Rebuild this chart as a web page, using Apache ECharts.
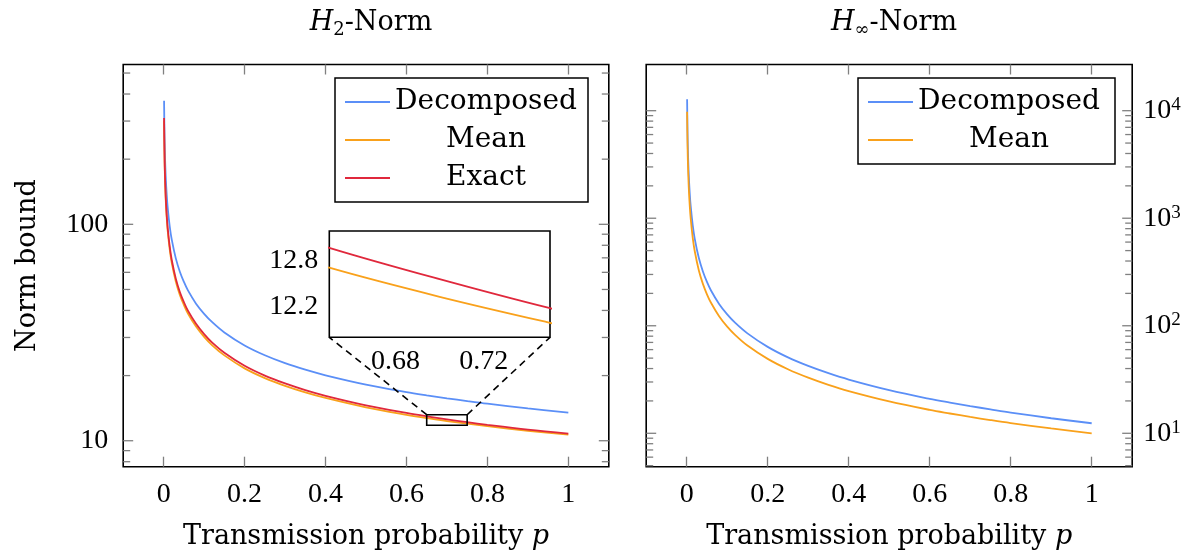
<!DOCTYPE html>
<html>
<head>
<meta charset="UTF-8" />
<title>Norm bounds</title>
<script src="https://cdn.jsdelivr.net/npm/echarts@6/dist/echarts.min.js"></script>
<style>
  body { margin: 0; padding: 0; background: #fff; }
  #main { width: 1196px; height: 560px; }
</style>
</head>
<body>
<div id="main"></div>
<script type="text/javascript">
// transmission probability p (shared by all curves)
var pValues = [0.001, 0.002, 0.003, 0.005, 0.0075, 0.01, 0.015, 0.02, 0.03, 0.04, 0.05, 0.06, 0.08, 0.1, 0.12, 0.15, 0.2, 0.25, 0.3, 0.35, 0.4, 0.5, 0.6, 0.65, 0.7, 0.75, 0.8, 0.9, 1.0];

// H2 norm bounds
var h2Decomposed = [372, 264, 215, 167.3, 137.2, 119.2, 97.7, 84.9, 69.6, 60.4, 54.2, 49.5, 43.0, 38.6, 35.3, 31.65, 27.56, 24.83, 22.83, 21.3, 20.07, 18.18, 16.79, 16.22, 15.71, 15.25, 14.83, 14.11, 13.5];
var h2Mean = [301, 209.5, 169.8, 131, 107.3, 93.2, 76.4, 66.3, 54.4, 47.2, 42.4, 38.7, 33.7, 30.2, 27.6, 24.8, 21.6, 19.48, 17.94, 16.73, 15.76, 14.26, 13.16, 12.71, 12.33, 11.99, 11.67, 11.12, 10.67];
var h2Exact = [310, 216, 175, 135, 110.6, 96.1, 78.8, 68.4, 56.1, 48.7, 43.7, 39.9, 34.7, 31.1, 28.4, 25.5, 22.2, 20.0, 18.4, 17.14, 16.13, 14.58, 13.44, 12.97, 12.56, 12.18, 11.84, 11.25, 10.78];

// H-infinity norm bounds
var hinfDecomposed = [12800, 6400, 4266, 2560, 1706, 1280, 853, 640, 426, 320, 256, 213, 159.6, 127.6, 106.3, 85, 63.6, 50.8, 42.3, 36.2, 31.6, 25.2, 20.9, 19.3, 17.9, 16.7, 15.6, 13.8, 12.4];
var hinfMean = [9800, 4900, 3267, 1960, 1307, 980, 653.5, 490, 326.9, 245.2, 196.2, 163.5, 122.7, 98.2, 81.9, 65.5, 49.2, 39.4, 32.9, 28.2, 24.7, 19.8, 16.5, 15.28, 14.2, 13.27, 12.45, 11.09, 10.0];

// ticks
var xTicks = [0, 0.2, 0.4, 0.6, 0.8, 1];
var h2MajorTicks = [10, 100];
var h2MinorTicks = [8, 9, 20, 30, 40, 50, 60, 70, 80, 90, 200, 300, 400, 500];
var hinfMajorTicks = [10, 100, 1000, 10000];
var hinfMinorTicks = [5, 6, 7, 8, 9, 20, 30, 40, 50, 60, 70, 80, 90, 200, 300, 400, 500, 600, 700, 800, 900, 2000, 3000, 4000, 5000, 6000, 7000, 8000, 9000];
var insetXTicks = [0.68, 0.72];
var insetYTicks = [12.2, 12.8];

// axis ranges
var xRange = [-0.1, 1.1];
var h2Range = [7.586, 547.6];
var hinfRange = [4.89, 26890];
var insetX = [0.65, 0.75];
var insetY = [11.8, 13.19];

var BLUE = '#5b8ff7';
var ORANGE = '#f9a11b';
var RED = '#e0283c';
var TICK = '#808080';
var WORD = 'DejaVu Serif';
var NUM = 'Liberation Serif';

function pairs(ys) {
  return pValues.map(function (p, i) { return [p, ys[i]]; });
}

function curve(name, ys, color, xi, yi) {
  return {
    name: name, type: 'line', xAxisIndex: xi, yAxisIndex: yi,
    data: pairs(ys), symbol: 'none', smooth: 0.35, clip: true,
    lineStyle: { color: color, width: 1.8 }, itemStyle: { color: color }
  };
}

// short y ticks drawn on both sides of a grid, placed by the axis scale
function yTicks(xi, yi, values, len) {
  return {
    type: 'custom', xAxisIndex: xi, yAxisIndex: yi, silent: true, z: 1,
    data: values.map(function (v) { return [0, v]; }),
    encode: { x: 0, y: 1 },
    renderItem: function (params, api) {
      var v = api.value(1);
      var a = api.coord([xRange[0], v]);
      var b = api.coord([xRange[1], v]);
      var st = { stroke: TICK, lineWidth: 1.3 };
      return {
        type: 'group', children: [
          { type: 'line', shape: { x1: a[0], y1: a[1], x2: a[0] + len, y2: a[1] }, style: st },
          { type: 'line', shape: { x1: b[0], y1: b[1], x2: b[0] - len, y2: b[1] }, style: st }
        ]
      };
    }
  };
}

function xAxisPair(gridIndex, min, max, ticks, len, labelMargin) {
  var tickStyle = { color: TICK, width: 1.3 };
  return [
    {
      type: 'value', gridIndex: gridIndex, position: 'bottom', min: min, max: max,
      axisLine: { show: false }, splitLine: { show: false },
      axisTick: { inside: true, length: len, customValues: ticks, lineStyle: tickStyle },
      axisLabel: { customValues: ticks, margin: labelMargin, fontFamily: NUM, fontSize: 28, color: '#000' }
    },
    {
      type: 'value', gridIndex: gridIndex, position: 'top', min: min, max: max,
      axisLine: { show: false }, splitLine: { show: false },
      axisTick: { inside: true, length: len, customValues: ticks, lineStyle: tickStyle },
      axisLabel: { show: false }
    }
  ];
}

var axisName = {
  fontFamily: WORD, fontSize: 27, fontWeight: 'normal', color: '#000', lineHeight: 30,
  rich: { i: { fontFamily: WORD, fontStyle: 'italic', fontWeight: 'normal', fontSize: 27, lineHeight: 30 } }
};

var titleStyle = {
  fontFamily: WORD, fontSize: 27, fontWeight: 'normal', color: '#000',
  rich: {
    i: { fontFamily: WORD, fontStyle: 'italic', fontWeight: 'normal', fontSize: 27, lineHeight: 32, color: '#000' },
    s: { fontFamily: WORD, fontWeight: 'normal', fontSize: 18, lineHeight: 18, verticalAlign: 'bottom', color: '#000' },
    n: { fontFamily: WORD, fontWeight: 'normal', fontSize: 27, lineHeight: 32, color: '#000' }
  }
};

var legendText = {
  fontFamily: WORD, fontSize: 28, color: '#000', lineHeight: 30,
  rich: { c: { width: 182, align: 'center', fontFamily: WORD, fontSize: 28, lineHeight: 30, color: '#000' } }
};

var chart = echarts.init(document.getElementById('main'));

var xAxes = []
  .concat(xAxisPair(0, xRange[0], xRange[1], xTicks, 10, 14))
  .concat(xAxisPair(1, xRange[0], xRange[1], xTicks, 10, 14))
  .concat(xAxisPair(2, insetX[0], insetX[1], insetXTicks, 9, 10));

[0, 2].forEach(function (k) {
  xAxes[k].name = 'Transmission probability {i|p}';
  xAxes[k].nameLocation = 'middle';
  xAxes[k].nameGap = 55;
  xAxes[k].nameTextStyle = axisName;
});

var legendBase = {
  orient: 'vertical', icon: 'rect', itemWidth: 45, itemHeight: 2, itemGap: 8,
  borderColor: '#000', borderWidth: 1.5, borderRadius: 0, backgroundColor: '#fff',
  formatter: '{c|{name}}', textStyle: legendText, selectedMode: false
};

var option = {
  animation: false,
  backgroundColor: '#fff',
  title: [
    { text: '{i|H}{s|2}{n|-Norm}', left: 366, top: 2, textAlign: 'center', textStyle: titleStyle },
    { text: '{i|H}{s|∞}{n|-Norm}', left: 889, top: 2, textAlign: 'center', textStyle: titleStyle }
  ],
  legend: [
    Object.assign({}, legendBase, { data: ['Decomposed', 'Mean', 'Exact'], left: 335, top: 78, padding: [9, 11, 9, 10] }),
    Object.assign({}, legendBase, { data: ['Decomposed', 'Mean'], left: 858, top: 78, padding: [9, 15, 9, 10] })
  ],
  grid: [
    { left: 123.2, top: 64.5, width: 485.6, height: 402.2, show: true, borderColor: '#000', borderWidth: 1.6, backgroundColor: 'transparent', outerBoundsMode: 'none' },
    { left: 646.2, top: 64.5, width: 486, height: 402.2, show: true, borderColor: '#000', borderWidth: 1.6, backgroundColor: 'transparent', outerBoundsMode: 'none' },
    { left: 329.3, top: 231, width: 220.7, height: 106.3, show: true, borderColor: '#000', borderWidth: 1.6, backgroundColor: '#fff', outerBoundsMode: 'none', z: 5 }
  ],
  xAxis: xAxes,
  yAxis: [
    {
      type: 'log', gridIndex: 0, position: 'left', min: h2Range[0], max: h2Range[1],
      axisLine: { show: false }, axisTick: { show: false }, splitLine: { show: false },
      axisLabel: { margin: 15, fontFamily: NUM, fontSize: 28, color: '#000', showMinLabel: false, showMaxLabel: false },
      name: 'Norm bound', nameLocation: 'middle', nameGap: 80, nameRotate: 90, nameTextStyle: axisName
    },
    {
      type: 'log', gridIndex: 1, position: 'right', min: hinfRange[0], max: hinfRange[1],
      axisLine: { show: false }, axisTick: { show: false }, splitLine: { show: false },
      axisLabel: {
        margin: 11, showMinLabel: false, showMaxLabel: false,
        formatter: function (v) { return '{b|10}{s|' + Math.round(Math.log10(v)) + '}'; },
        rich: {
          b: { fontFamily: NUM, fontSize: 28, lineHeight: 30, color: '#000' },
          s: { fontFamily: NUM, fontSize: 19, lineHeight: 19, verticalAlign: 'top', color: '#000' }
        }
      }
    },
    {
      type: 'value', gridIndex: 2, position: 'left', min: insetY[0], max: insetY[1],
      axisLine: { show: false }, splitLine: { show: false },
      axisTick: { inside: true, length: 9, customValues: insetYTicks, lineStyle: { color: TICK, width: 1.3 } },
      axisLabel: { customValues: insetYTicks, margin: 11, fontFamily: NUM, fontSize: 28, color: '#000' }
    },
    {
      type: 'value', gridIndex: 2, position: 'right', min: insetY[0], max: insetY[1],
      axisLine: { show: false }, splitLine: { show: false },
      axisTick: { inside: true, length: 9, customValues: insetYTicks, lineStyle: { color: TICK, width: 1.3 } },
      axisLabel: { show: false }
    }
  ],
  series: [
    yTicks(0, 0, h2MajorTicks, 10),
    yTicks(0, 0, h2MinorTicks, 7),
    yTicks(2, 1, hinfMajorTicks, 10),
    yTicks(2, 1, hinfMinorTicks, 7),
    curve('Decomposed', h2Decomposed, BLUE, 0, 0),
    curve('Mean', h2Mean, ORANGE, 0, 0),
    curve('Exact', h2Exact, RED, 0, 0),
    curve('Decomposed', hinfDecomposed, BLUE, 2, 1),
    curve('Mean', hinfMean, ORANGE, 2, 1),
    Object.assign(curve('Mean', h2Mean, ORANGE, 4, 2), { z: 6 }),
    Object.assign(curve('Exact', h2Exact, RED, 4, 2), { z: 6 })
  ]
};

chart.setOption(option);

// zoom box on the main H2 plot and dashed connectors to the inset
var tl = chart.convertToPixel({ xAxisIndex: 0, yAxisIndex: 0 }, [insetX[0], insetY[1]]);
var br = chart.convertToPixel({ xAxisIndex: 0, yAxisIndex: 0 }, [insetX[1], insetY[0]]);
var il = chart.convertToPixel({ xAxisIndex: 4, yAxisIndex: 2 }, [insetX[0], insetY[0]]);
var ir = chart.convertToPixel({ xAxisIndex: 4, yAxisIndex: 2 }, [insetX[1], insetY[0]]);
var dash = { stroke: '#000', lineWidth: 1.6, lineDash: [7, 5] };
chart.setOption({
  graphic: [
    { type: 'rect', z: 10, shape: { x: tl[0], y: tl[1], width: br[0] - tl[0], height: br[1] - tl[1] }, style: { fill: 'none', stroke: '#000', lineWidth: 1.6 } },
    { type: 'line', z: 10, shape: { x1: tl[0], y1: tl[1], x2: il[0], y2: il[1] }, style: dash },
    { type: 'line', z: 10, shape: { x1: br[0], y1: tl[1], x2: ir[0], y2: ir[1] }, style: dash }
  ]
});
</script>
</body>
</html>
